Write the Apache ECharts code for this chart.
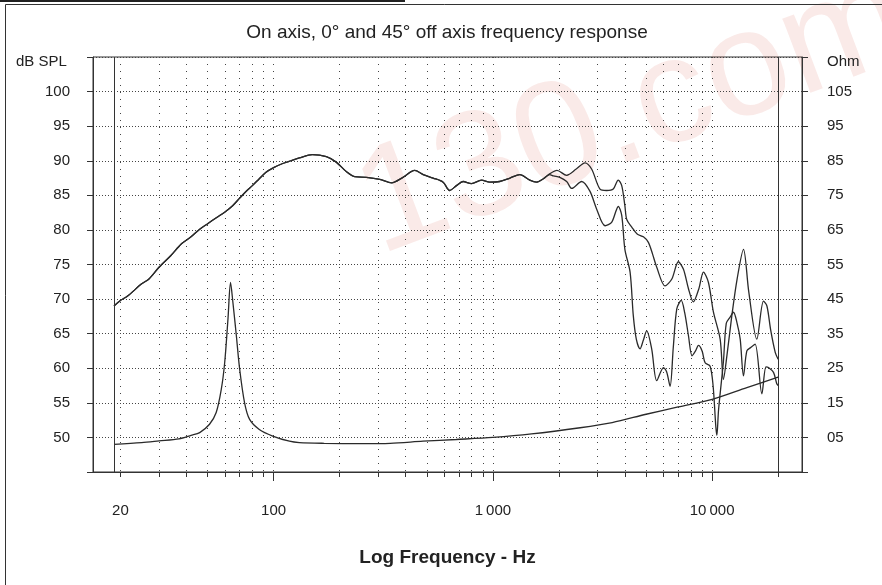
<!DOCTYPE html>
<html>
<head>
<meta charset="utf-8">
<script src="https://cdn.jsdelivr.net/npm/echarts@6/dist/echarts.min.js"></script>
<style>
  html, body { margin: 0; padding: 0; background: #fff; }
  #chart { width: 882px; height: 585px; }
</style>
</head>
<body>
<div id="chart"></div>
<script>
// 频率轴刻度
const tickFreqs = [20, 30, 40, 50, 60, 70, 80, 90, 100, 200, 300, 400, 500, 600, 700, 800, 900,
  1000, 2000, 3000, 4000, 5000, 6000, 7000, 8000, 9000, 10000, 20000];
const majorFreqs = [100, 1000, 10000];
const labelFreqs = [20, 100, 1000, 10000];
const limitFreqs = [18.7, 20000];

// 0° 轴向响应 (dB SPL)
const freqOn = [18.7, 20, 21.5, 25, 27, 30, 34, 38, 42, 46, 50, 55, 60, 65, 70, 75, 80, 86, 92, 100,
  110, 120, 131, 150, 174, 193, 215, 234, 265, 305, 345, 389, 440, 481, 534, 593, 635, 682, 731, 799,
  887, 967, 1074, 1197, 1327, 1473, 1580, 1700, 1815, 1960, 2170, 2400, 2630, 2820, 3080, 3300, 3540,
  3730, 3870, 4000, 4080, 4300, 4550, 4860, 5120, 5350, 5590, 6100, 6550, 7015, 7400, 7800, 8210,
  8700, 9130, 9620, 10140, 10880, 11260, 11700, 12300, 13000, 13900, 14700, 15990, 17150, 17780,
  18500, 19400, 20000];
const splOn = [69.0, 69.8, 70.4, 72.2, 72.9, 74.6, 76.3, 78.0, 79.0, 80.1, 80.9, 81.8, 82.6, 83.5,
  84.6, 85.6, 86.4, 87.4, 88.3, 89.0, 89.6, 90.0, 90.4, 90.9, 90.6, 89.8, 88.4, 87.7, 87.6, 87.3,
  86.8, 87.6, 88.6, 88.0, 87.5, 86.9, 85.7, 86.4, 87.0, 86.7, 87.2, 86.9, 87.0, 87.5, 88.0, 87.2,
  86.9, 87.4, 88.1, 88.6, 87.9, 88.8, 89.7, 88.8, 85.9, 85.7, 85.9, 87.2, 86.4, 83.5, 81.5, 80.4,
  79.4, 79.0, 78.2, 76.5, 74.6, 71.9, 72.9, 75.4, 74.3, 71.5, 69.6, 71.5, 73.9, 72.4, 68.1, 64.2,
  58.4, 62.0, 67.6, 72.9, 77.2, 71.0, 64.2, 69.7, 69.0, 65.5, 62.3, 61.3];

// 45° 离轴响应 (dB SPL)
const freqOff = [18.7, 20, 21.5, 25, 27, 30, 34, 38, 42, 46, 50, 55, 60, 65, 70, 75, 80, 86, 92, 100,
  110, 120, 131, 150, 174, 193, 215, 234, 265, 305, 345, 389, 440, 481, 534, 593, 635, 682, 731, 799,
  887, 967, 1074, 1197, 1327, 1473, 1580, 1700, 1815, 1890, 2020, 2170, 2290, 2540, 2770, 2975, 3250,
  3480, 3650, 3730, 3870, 4000, 4225, 4370, 4510, 4690, 4850, 5030, 5300, 5590, 6000, 6200, 6430,
  6650, 6900, 7230, 7500, 7800, 8100, 8400, 8660, 9000, 9290, 9790, 10100, 10400, 10510, 10700,
  11260, 11600, 12080, 12510, 13000, 13430, 13900, 14400, 15000, 15710, 16860, 17600, 18070, 19050,
  19700, 20000];
const splOff = [69.0, 69.8, 70.4, 72.2, 72.9, 74.6, 76.3, 78.0, 79.0, 80.1, 80.9, 81.8, 82.6, 83.5,
  84.6, 85.6, 86.4, 87.4, 88.3, 89.0, 89.6, 90.0, 90.4, 90.9, 90.6, 89.8, 88.4, 87.7, 87.6, 87.3,
  86.8, 87.6, 88.6, 88.0, 87.5, 86.9, 85.7, 86.4, 87.0, 86.7, 87.2, 86.9, 87.0, 87.5, 88.0, 87.2,
  86.9, 87.4, 88.0, 87.8, 87.6, 87.0, 86.0, 87.0, 85.6, 83.0, 80.6, 81.1, 82.8, 83.4, 82.1, 77.2,
  73.9, 67.6, 64.2, 62.8, 64.0, 65.4, 62.8, 58.2, 60.1, 59.5, 57.4, 63.0, 68.6, 69.8, 68.0, 64.7,
  61.8, 62.5, 63.3, 62.5, 60.8, 60.3, 57.5, 51.5, 50.3, 54.0, 61.0, 66.5, 67.4, 68.1, 66.5, 64.2,
  58.9, 62.5, 63.0, 63.5, 56.3, 60.2, 60.1, 59.4, 57.8, 57.5];

// 阻抗 (Ohm)
const freqZ = [18.7, 25, 30, 37, 42, 46, 51, 54.7, 57.7, 59.8, 61.9, 63.6, 65.2, 67.6, 70, 73.7,
  77.7, 86, 99, 118, 131, 170, 250, 340, 480, 680, 1000, 1500, 2500, 3500, 5000, 7000, 10000,
  14400, 20000];
const ohmZ = [3.0, 3.5, 4.0, 4.6, 5.6, 6.4, 8.8, 12.2, 18.9, 26.6, 39.2, 49.8, 44.0, 34.4, 24.7, 15.0,
  10.2, 7.3, 5.4, 3.9, 3.5, 3.3, 3.2, 3.3, 3.9, 4.4, 5.0, 6.0, 7.8, 9.3, 11.7, 13.8, 16.0, 19.4, 22.4];

const dom = document.getElementById('chart');
const myChart = echarts.init(dom);

const fontFamily = '"Liberation Sans", Arial, sans-serif';
const ink = '#222';
const lineColor = '#2a2a2a';

function pairs(xs, ys) {
  return xs.map((x, i) => [x, ys[i]]);
}

function freqLabel(v) {
  if (v >= 1000) {
    const k = Math.round(v / 1000);
    return k + '\u2009000';
  }
  return String(Math.round(v));
}

const option = {
  backgroundColor: '#fff',
  animation: false,
  textStyle: { fontFamily: fontFamily },
  grid: {
    left: 93,
    right: 80,
    top: 57,
    bottom: 113,
    show: true,
    borderColor: '#333',
    borderWidth: 1,
    backgroundColor: 'transparent'
  },
  xAxis: [
    {
      type: 'log',
      logBase: 10,
      min: 15,
      max: 25700,
      name: 'Log Frequency - Hz',
      nameLocation: 'middle',
      nameGap: 76,
      nameTextStyle: { fontSize: 19, fontWeight: 'bold', color: ink, fontFamily: fontFamily },
      axisLine: { show: true, onZero: false, lineStyle: { color: '#333' } },
      axisTick: { show: true, length: 5, customValues: tickFreqs, lineStyle: { color: '#333' } },
      axisLabel: {
        customValues: labelFreqs,
        margin: 31,
        fontSize: 15,
        color: ink,
        formatter: freqLabel
      },
      splitLine: { show: true, lineStyle: { type: [1, 6], color: '#444', width: 1 } },
      minorTick: { show: false },
      minorSplitLine: { show: false }
    },
    {
      type: 'log',
      logBase: 10,
      min: 15,
      max: 25700,
      position: 'bottom',
      axisLine: { show: false, onZero: false },
      axisTick: { show: true, length: 9, customValues: majorFreqs, lineStyle: { color: '#333' } },
      axisLabel: { show: false },
      splitLine: { show: false }
    }
  ],
  yAxis: [
    {
      type: 'value',
      min: 45,
      max: 105,
      interval: 5,
      position: 'left',
      axisLine: { show: true, onZero: false, lineStyle: { color: '#333' } },
      axisTick: { show: true, length: 6, lineStyle: { color: '#333' } },
      axisLabel: {
        margin: 23,
        fontSize: 15,
        color: ink,
        formatter: v => (v < 50 || v > 100) ? '' : String(v)
      },
      splitLine: { show: true, lineStyle: { type: [1, 2], color: '#444', width: 1 } }
    },
    {
      type: 'value',
      min: -5,
      max: 115,
      interval: 10,
      position: 'right',
      axisLine: { show: true, onZero: false, lineStyle: { color: '#333' } },
      axisTick: { show: true, length: 6, lineStyle: { color: '#333' } },
      axisLabel: {
        margin: 25,
        fontSize: 15,
        color: ink,
        formatter: v => (v < 5 || v > 105) ? '' : (v < 10 ? '0' + v : String(v))
      },
      splitLine: { show: false }
    }
  ],
  series: [
    {
      name: '0°',
      type: 'line',
      xAxisIndex: 0,
      yAxisIndex: 0,
      data: pairs(freqOn, splOn),
      showSymbol: false,
      smooth: 0.3,
      lineStyle: { color: lineColor, width: 1.3 }
    },
    {
      name: '45°',
      type: 'line',
      xAxisIndex: 0,
      yAxisIndex: 0,
      data: pairs(freqOff, splOff),
      showSymbol: false,
      smooth: 0.3,
      lineStyle: { color: lineColor, width: 1.3 }
    },
    {
      name: 'Impedance',
      type: 'line',
      xAxisIndex: 0,
      yAxisIndex: 1,
      data: pairs(freqZ, ohmZ),
      showSymbol: false,
      smooth: 0.3,
      lineStyle: { color: lineColor, width: 1.3 },
      markLine: {
        silent: true,
        symbol: 'none',
        label: { show: false },
        lineStyle: { type: 'solid', color: '#333', width: 1 },
        data: limitFreqs.map(f => ({ xAxis: f }))
      }
    }
  ],
  graphic: [
    // 水印
    {
      type: 'text',
      x: 634,
      y: 115,
      rotation: 0.36,
      z: 0,
      silent: true,
      style: {
        text: '130.com',
        align: 'center',
        verticalAlign: 'middle',
        fontSize: 150,
        fontFamily: fontFamily,
        fill: 'rgba(215, 90, 75, 0.13)'
      }
    },
    {
      type: 'rect',
      shape: { x: 5.5, y: 4.5, width: 900, height: 700 },
      style: { fill: 'none', stroke: '#333', lineWidth: 1 },
      silent: true
    },
    {
      type: 'line',
      shape: { x1: 0, y1: 1, x2: 405, y2: 1 },
      style: { stroke: '#222', lineWidth: 2 },
      silent: true
    },
    {
      type: 'text',
      x: 447,
      y: 33,
      style: {
        text: 'On axis, 0° and 45° off axis frequency response',
        align: 'center',
        verticalAlign: 'middle',
        fontSize: 19,
        fontFamily: fontFamily,
        fill: ink
      }
    },
    {
      type: 'text',
      x: 16,
      y: 62,
      style: { text: 'dB SPL', verticalAlign: 'middle', fontSize: 15, fontFamily: fontFamily, fill: ink }
    },
    {
      type: 'text',
      x: 827,
      y: 62,
      style: { text: 'Ohm', verticalAlign: 'middle', fontSize: 15, fontFamily: fontFamily, fill: ink }
    }
  ]
};

myChart.setOption(option);

window.addEventListener('resize', function () {
  myChart.resize();
});
</script>
</body>
</html>
